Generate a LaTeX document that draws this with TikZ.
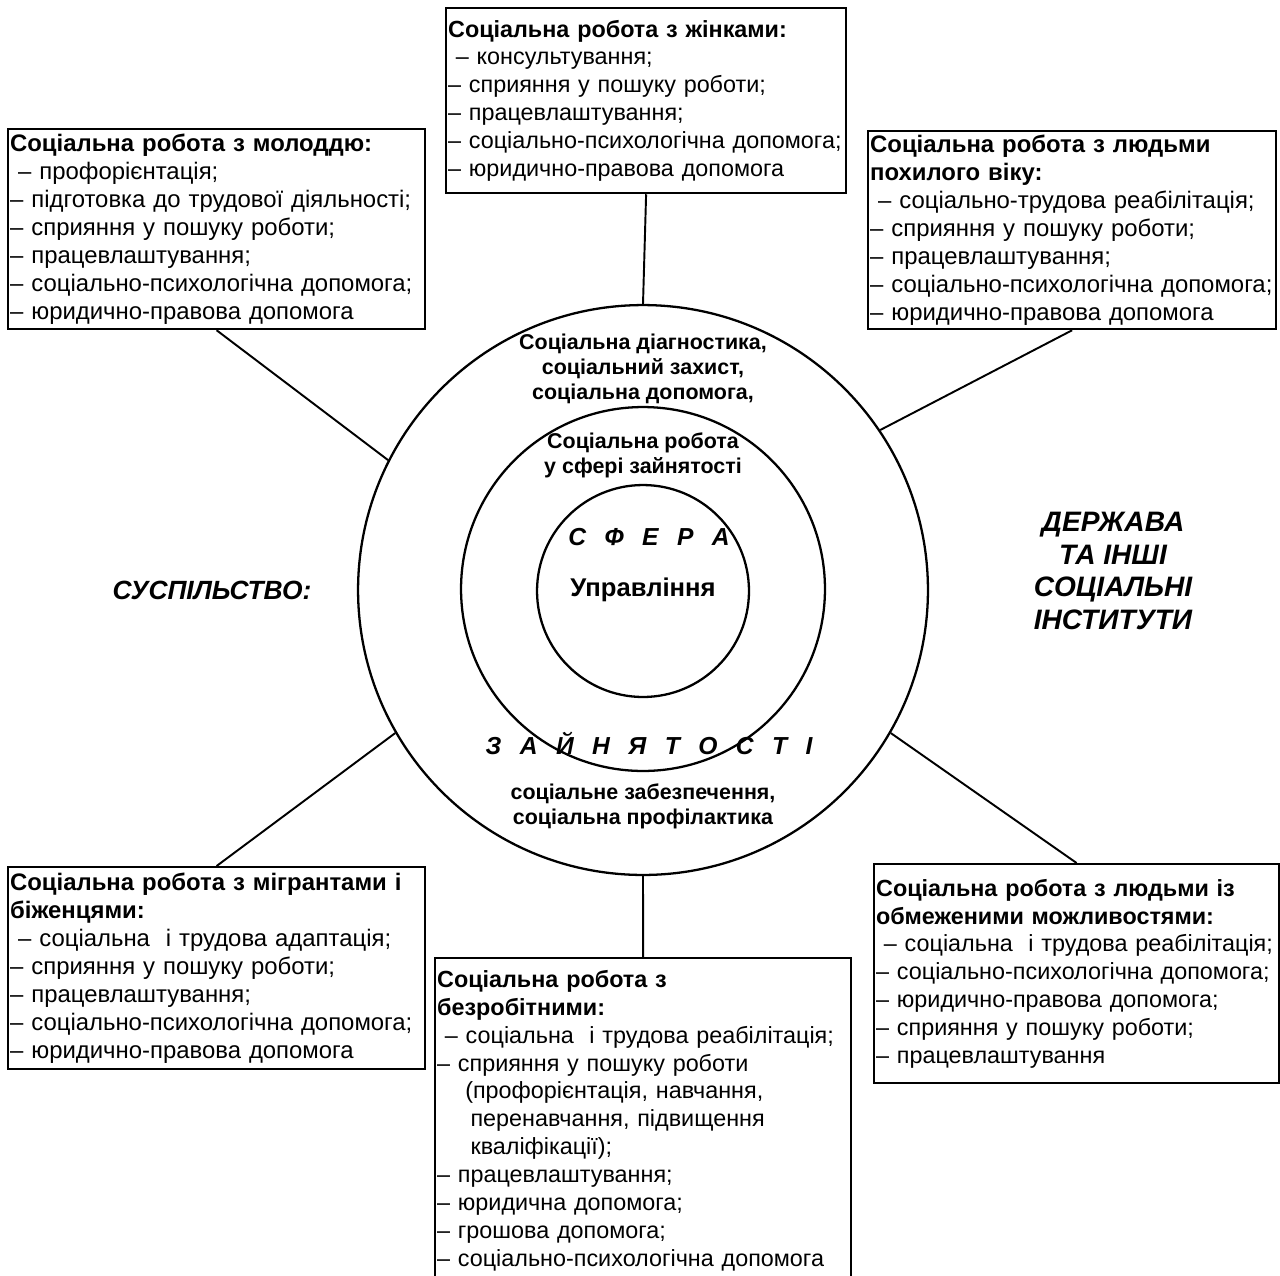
\documentclass[tikz,border=0pt]{standalone}
\usepackage{fontspec}
\setmainfont{Liberation Sans}
\usepackage{xcolor}
\definecolor{ink}{HTML}{000000}
\newcommand{\gap}{\hspace{0.75em}}
\tikzset{
  box/.style={draw=ink, line width=1.3pt, anchor=north west, align=left,
    inner xsep=0.4mm, inner ysep=0.8mm, font=\fontsize{13.3}{15.87}\selectfont},
  widebox/.style={box, font=\fontsize{13.6}{15.87}\selectfont},
  ring/.style={draw=ink, line width=1.3pt, circle, inner sep=0pt},
  link/.style={draw=ink, line width=1.1pt},
  lab/.style={text=ink, align=center, font=\bfseries\fontsize{12.2}{14.2}\selectfont},
  big/.style={text=ink, align=center, font=\bfseries\itshape\fontsize{15}{18.7}\selectfont},
}

\begin{document}
\begin{tikzpicture}[x=0.02cm, y=-0.02cm]
\useasboundingbox (0,0) rectangle (1280,1275);

% rings
\node[ring, minimum size=114mm] (outer) at (643,590) {};
\node[ring, minimum size=72.8mm] (middle) at (643,589) {};
\node[ring, minimum size=42.4mm] (inner) at (643,591) {};

% texts in the rings
\node[lab] (diag) at (643,369) {Соціальна діагностика,\\соціальний захист,\\соціальна допомога,};
\node[lab] (work) at (643,455) {Соціальна робота\\у сфері зайнятості};
\node[big, font=\bfseries\itshape\fontsize{14}{16}\selectfont] (sphere) at (649,537) {С\gap Ф\gap Е\gap Р\gap А};
\node[lab, font=\bfseries\fontsize{14.6}{16}\selectfont] (mgmt) at (643,590) {Управління};
\node[big, font=\bfseries\itshape\fontsize{14}{16}\selectfont] (empl) at (649,743) {З\gap А\gap Й\gap Н\gap Я\gap Т\gap О\gap С\gap Т\gap І};
\node[lab] (secur) at (643,806) {соціальне забезпечення,\\соціальна профілактика};

% sides
\node[big] (society) at (212,590) {СУСПІЛЬСТВО:};
\node[big, font=\bfseries\itshape\fontsize{16}{18.7}\selectfont] (state) at (1113,571) {ДЕРЖАВА\\ТА ІНШІ\\СОЦІАЛЬНІ\\ІНСТИТУТИ};

% boxes
\node[box, text width=79.2mm, minimum height=37mm] (women) at (445,7) {%
  \textbf{Соціальна робота з жінками:}\\
  ~– консультування;\\
  – сприяння у пошуку роботи;\\
  – працевлаштування;\\
  – соціально-психологічна допомога;\\
  – юридично-правова допомога};
\node[widebox, text width=82.6mm, minimum height=40mm] (youth) at (7,128) {%
  \textbf{Соціальна робота з молоддю:}\\
  ~– профорієнтація;\\
  – підготовка до трудової діяльності;\\
  – сприяння у пошуку роботи;\\
  – працевлаштування;\\
  – соціально-психологічна допомога;\\
  – юридично-правова допомога};
\node[widebox, text width=80.8mm, minimum height=39.6mm] (elderly) at (867,130) {%
  \textbf{Соціальна робота з людьми}\\
  \textbf{похилого віку:}\\
  ~– соціально-трудова реабілітація;\\
  – сприяння у пошуку роботи;\\
  – працевлаштування;\\
  – соціально-психологічна допомога;\\
  – юридично-правова допомога};
\node[widebox, text width=82.6mm, minimum height=40.4mm] (migrants) at (7,866) {%
  \textbf{Соціальна робота з мігрантами і}\\
  \textbf{біженцями:}\\
  ~– соціальна\ \ і трудова адаптація;\\
  – сприяння у пошуку роботи;\\
  – працевлаштування;\\
  – соціально-психологічна допомога;\\
  – юридично-правова допомога};
\node[box, text width=82.4mm, minimum height=65mm] (jobless) at (434,957) {%
  \textbf{Соціальна робота з}\\
  \textbf{безробітними:}\\
  ~– соціальна\ \ і трудова реабілітація;\\
  – сприяння у пошуку роботи\\
  \hspace{16pt}(профорієнтація, навчання,\\
  \hspace{19pt}перенавчання, підвищення\\
  \hspace{19pt}кваліфікації);\\
  – працевлаштування;\\
  – юридична допомога;\\
  – грошова допомога;\\
  – соціально-психологічна допомога};
\node[box, text width=80.2mm, minimum height=43.8mm] (disabled) at (873,863) {%
  \textbf{Соціальна робота з людьми із}\\
  \textbf{обмеженими можливостями:}\\
  ~– соціальна\ \ і трудова реабілітація;\\
  – соціально-психологічна допомога;\\
  – юридично-правова допомога;\\
  – сприяння у пошуку роботи;\\
  – працевлаштування};

% links
\draw[link] (women.south) -- (outer.90);
\draw[link] (youth.south) -- (outer.153);
\draw[link] (elderly.south) -- (outer.34);
\draw[link] (migrants.north) -- (outer.210);
\draw[link] (jobless.north) -- (outer.270);
\draw[link] (disabled.north) -- (outer.330);
\end{tikzpicture}
\end{document}
